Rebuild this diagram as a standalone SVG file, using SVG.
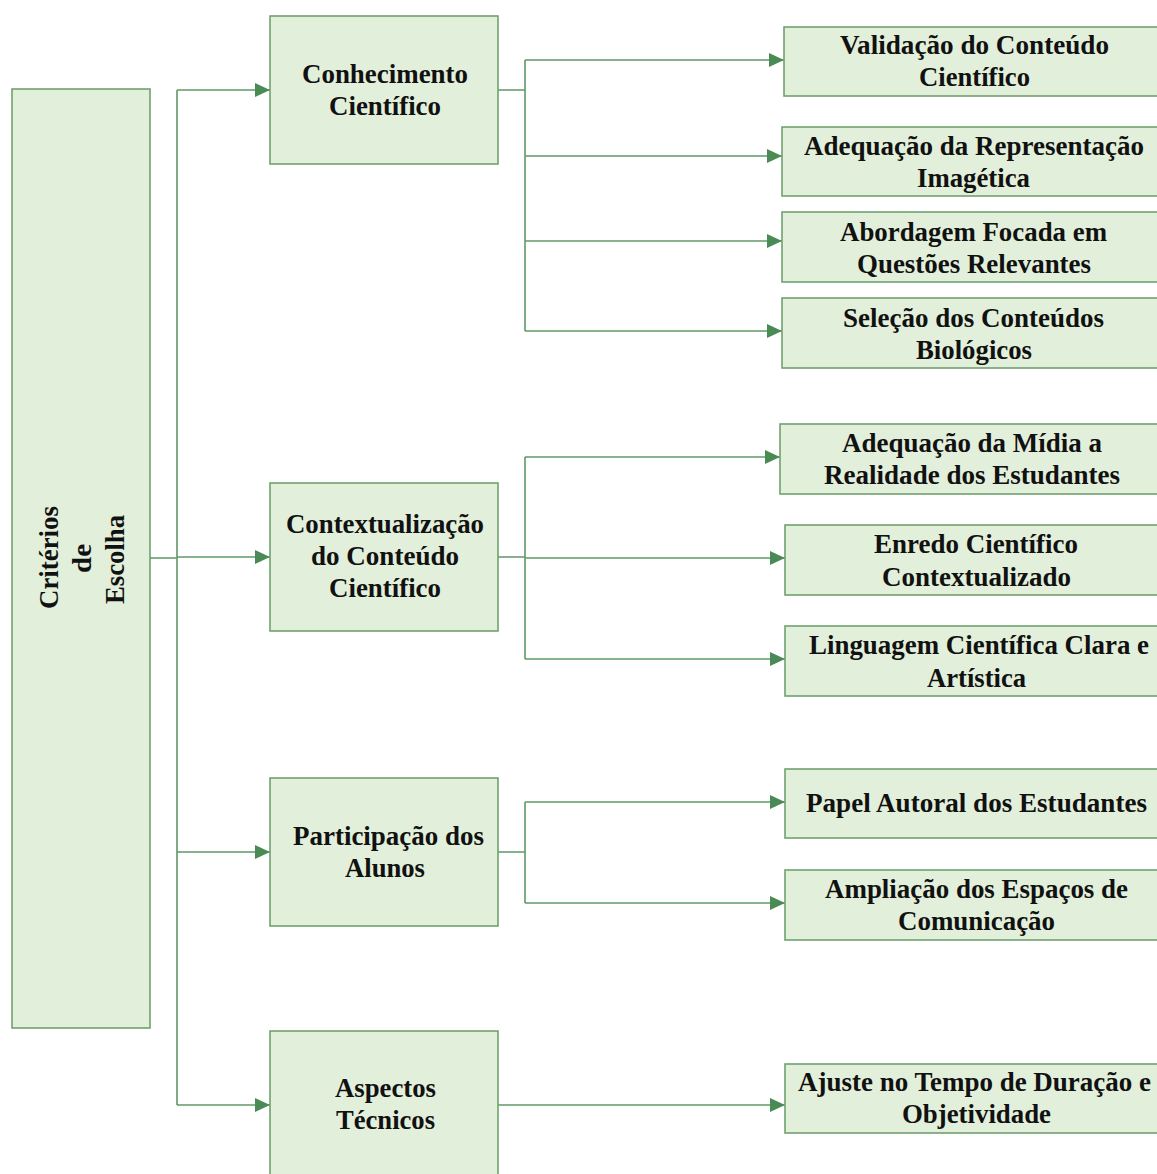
<svg xmlns="http://www.w3.org/2000/svg" width="1157" height="1174" viewBox="0 0 1157 1174">
  <style>
    .box { fill: #e2efda; stroke: #6fa26f; stroke-width: 1.6; }
    .lbl { font-family: "Liberation Serif", "Times New Roman", serif; font-weight: bold; font-size: 28px; fill: #111; }
    .wire { fill: none; stroke: #5f9867; stroke-width: 1.6; }
  </style>
  <defs>
    <marker id="arrow" markerUnits="userSpaceOnUse" markerWidth="16" markerHeight="16" viewBox="0 0 16 16" refX="15" refY="8" orient="auto">
      <path d="M0 1 L15 8 L0 15 Z" fill="#4a8a55"/>
    </marker>
  </defs>

  <rect width="1157" height="1174" fill="#ffffff"/>

  <!-- connectors -->
  <g id="connectors">
    <path class="wire" d="M150 558 H177 M177 90 V1105"/>
    <path class="wire" d="M177 90 H270" marker-end="url(#arrow)"/>
    <path class="wire" d="M177 557 H270" marker-end="url(#arrow)"/>
    <path class="wire" d="M177 852 H270" marker-end="url(#arrow)"/>
    <path class="wire" d="M177 1105 H270" marker-end="url(#arrow)"/>

    <path class="wire" d="M498 90 H525 M525 60 V331"/>
    <path class="wire" d="M525 60 H784" marker-end="url(#arrow)"/>
    <path class="wire" d="M525 156 H782" marker-end="url(#arrow)"/>
    <path class="wire" d="M525 241 H782" marker-end="url(#arrow)"/>
    <path class="wire" d="M525 331 H782" marker-end="url(#arrow)"/>

    <path class="wire" d="M498 557 H525 M525 457 V659"/>
    <path class="wire" d="M525 457 H780" marker-end="url(#arrow)"/>
    <path class="wire" d="M525 558 H785" marker-end="url(#arrow)"/>
    <path class="wire" d="M525 659 H785" marker-end="url(#arrow)"/>

    <path class="wire" d="M498 852 H525 M525 802 V903"/>
    <path class="wire" d="M525 802 H785" marker-end="url(#arrow)"/>
    <path class="wire" d="M525 903 H785" marker-end="url(#arrow)"/>

    <path class="wire" d="M498 1105 H785" marker-end="url(#arrow)"/>
  </g>

  <!-- root -->
  <g id="criterios">
    <rect class="box" x="12" y="89" width="138" height="939"/>
    <g transform="translate(0 558) rotate(-90)">
      <text class="lbl" x="-51" y="58" textLength="103" lengthAdjust="spacingAndGlyphs">Critérios</text>
      <text class="lbl" x="-15" y="91" textLength="29" lengthAdjust="spacingAndGlyphs">de</text>
      <text class="lbl" x="-46" y="124" textLength="89" lengthAdjust="spacingAndGlyphs">Escolha</text>
    </g>
  </g>

  <!-- second level -->
  <g id="conhecimento">
    <rect class="box" x="270" y="16" width="228" height="148"/>
    <text class="lbl" x="302" y="83" textLength="166" lengthAdjust="spacingAndGlyphs">Conhecimento</text>
    <text class="lbl" x="329" y="115" textLength="112" lengthAdjust="spacingAndGlyphs">Científico</text>
  </g>
  <g id="contextualizacao">
    <rect class="box" x="270" y="483" width="228" height="148"/>
    <text class="lbl" x="286" y="533" textLength="198" lengthAdjust="spacingAndGlyphs">Contextualização</text>
    <text class="lbl" x="311" y="565" textLength="148" lengthAdjust="spacingAndGlyphs">do Conteúdo</text>
    <text class="lbl" x="329" y="597" textLength="112" lengthAdjust="spacingAndGlyphs">Científico</text>
  </g>
  <g id="participacao">
    <rect class="box" x="270" y="778" width="228" height="148"/>
    <text class="lbl" x="293" y="845" textLength="191" lengthAdjust="spacingAndGlyphs">Participação dos</text>
    <text class="lbl" x="345" y="877" textLength="80" lengthAdjust="spacingAndGlyphs">Alunos</text>
  </g>
  <g id="aspectos">
    <rect class="box" x="270" y="1031" width="228" height="150"/>
    <text class="lbl" x="335" y="1097" textLength="101" lengthAdjust="spacingAndGlyphs">Aspectos</text>
    <text class="lbl" x="336" y="1129" textLength="99" lengthAdjust="spacingAndGlyphs">Técnicos</text>
  </g>

  <!-- third level (right edges run to the border of the sheet) -->
  <g id="validacao">
    <rect class="box" x="784" y="27" width="374" height="69"/>
    <text class="lbl" x="840" y="54" textLength="269" lengthAdjust="spacingAndGlyphs">Validação do Conteúdo</text>
    <text class="lbl" x="919" y="86" textLength="111" lengthAdjust="spacingAndGlyphs">Científico</text>
  </g>
  <g id="representacao">
    <rect class="box" x="782" y="127" width="376" height="69"/>
    <text class="lbl" x="804" y="155" textLength="340" lengthAdjust="spacingAndGlyphs">Adequação da Representação</text>
    <text class="lbl" x="917" y="187" textLength="113" lengthAdjust="spacingAndGlyphs">Imagética</text>
  </g>
  <g id="abordagem">
    <rect class="box" x="782" y="212" width="376" height="70"/>
    <text class="lbl" x="840" y="241" textLength="267" lengthAdjust="spacingAndGlyphs">Abordagem Focada em</text>
    <text class="lbl" x="857" y="273" textLength="234" lengthAdjust="spacingAndGlyphs">Questões Relevantes</text>
  </g>
  <g id="selecao">
    <rect class="box" x="782" y="298" width="376" height="70"/>
    <text class="lbl" x="843" y="327" textLength="261" lengthAdjust="spacingAndGlyphs">Seleção dos Conteúdos</text>
    <text class="lbl" x="916" y="359" textLength="116" lengthAdjust="spacingAndGlyphs">Biológicos</text>
  </g>
  <g id="midia">
    <rect class="box" x="780" y="424" width="378" height="70"/>
    <text class="lbl" x="842" y="452" textLength="260" lengthAdjust="spacingAndGlyphs">Adequação da Mídia a</text>
    <text class="lbl" x="824" y="484" textLength="296" lengthAdjust="spacingAndGlyphs">Realidade dos Estudantes</text>
  </g>
  <g id="enredo">
    <rect class="box" x="785" y="525" width="373" height="70"/>
    <text class="lbl" x="874" y="553" textLength="204" lengthAdjust="spacingAndGlyphs">Enredo Científico</text>
    <text class="lbl" x="882" y="586" textLength="189" lengthAdjust="spacingAndGlyphs">Contextualizado</text>
  </g>
  <g id="linguagem">
    <rect class="box" x="785" y="626" width="373" height="70"/>
    <text class="lbl" x="809" y="654" textLength="340" lengthAdjust="spacingAndGlyphs">Linguagem Científica Clara e</text>
    <text class="lbl" x="927" y="687" textLength="99" lengthAdjust="spacingAndGlyphs">Artística</text>
  </g>
  <g id="papel">
    <rect class="box" x="785" y="769" width="373" height="69"/>
    <text class="lbl" x="806" y="812" textLength="341" lengthAdjust="spacingAndGlyphs">Papel Autoral dos Estudantes</text>
  </g>
  <g id="ampliacao">
    <rect class="box" x="785" y="870" width="373" height="70"/>
    <text class="lbl" x="825" y="898" textLength="303" lengthAdjust="spacingAndGlyphs">Ampliação dos Espaços de</text>
    <text class="lbl" x="898" y="930" textLength="157" lengthAdjust="spacingAndGlyphs">Comunicação</text>
  </g>
  <g id="ajuste">
    <rect class="box" x="785" y="1064" width="373" height="69"/>
    <text class="lbl" x="798" y="1091" textLength="353" lengthAdjust="spacingAndGlyphs">Ajuste no Tempo de Duração e</text>
    <text class="lbl" x="902" y="1123" textLength="149" lengthAdjust="spacingAndGlyphs">Objetividade</text>
  </g>
</svg>
